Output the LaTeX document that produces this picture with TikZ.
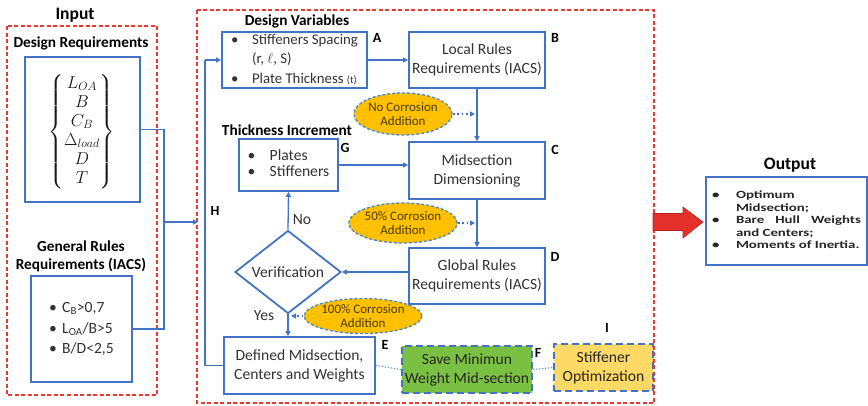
\documentclass[tikz,border=0pt]{standalone}
\usepackage{fontspec}
\usepackage{amsmath}
\setmainfont{Carlito}
\newfontfamily\outfont{Carlito}[FakeStretch=1.35]
\usetikzlibrary{arrows.meta,shapes.geometric}
\definecolor{boxblue}{HTML}{4472C4}
\definecolor{ellblue}{HTML}{4A86C8}
\definecolor{lightblue}{HTML}{5B9BD5}
\definecolor{reddash}{HTML}{E8382F}
\definecolor{gold}{HTML}{FFC000}
\definecolor{greenbox}{HTML}{7AC143}
\definecolor{yellowbox}{HTML}{FFD966}
\definecolor{textgray}{HTML}{333333}
\definecolor{olivetext}{HTML}{4A3C00}
\definecolor{redarrow}{HTML}{E3302A}
\newcommand{\mainf}{\fontsize{15.6}{19}\selectfont}
\begin{document}
\begin{tikzpicture}[x=1pt,y=-1pt,
  box/.style={draw=boxblue, line width=1.8pt, fill=white, inner sep=0pt, align=center, font=\mainf, text=textgray},
  dbox/.style={draw=boxblue, line width=2.2pt, dash pattern=on 7pt off 4pt, inner sep=0pt, align=center, font=\mainf, text=black!85},
  ttl/.style={font=\bfseries\fontsize{15.3}{18}\selectfont, align=center, inner sep=0pt},
  bigttl/.style={font=\bfseries\fontsize{17.5}{20}\selectfont, inner sep=0pt},
  lbl/.style={font=\bfseries\fontsize{14}{16}\selectfont, inner sep=0pt},
  frame/.style={draw=reddash, line width=1.5pt, dash pattern=on 4pt off 2.5pt},
  conn/.style={draw=boxblue, line width=1.3pt},
  arr/.style={conn, -{Triangle[length=5pt,width=5pt]}},
  dotarr/.style={draw=boxblue, line width=1.6pt, dash pattern=on 1.8pt off 2.6pt, -{Triangle[length=5pt,width=5pt]}},
  dotline/.style={draw=lightblue, line width=1.1pt, dash pattern=on 1.4pt off 1.6pt},
  corr/.style={ellipse, fill=gold, draw=ellblue, line width=1.3pt, dash pattern=on 3pt off 2pt, inner sep=0pt, align=center, font=\fontsize{13}{14.5}\selectfont, text=olivetext},
  plain/.style={font=\mainf, text=textgray, inner sep=0pt}
]
\useasboundingbox (0,0) rectangle (868,405);

% frames
\draw[frame] (7,26) rectangle (157,395);
\draw[frame] (197,10) rectangle (654,403);

% ---------- Input ----------
\node[bigttl] (tin) at (75,15) {Input};
\node[ttl] (tdr) at (81,43) {Design Requirements};
\node[box, minimum width=115pt, minimum height=145pt, text=black] (DR) at (82.5,129.5) {};
\node[inner sep=0pt, text=black!90, font=\fontsize{16.5}{19}\selectfont] (DRt) at (82,132)
  {$\left\{\begin{matrix} L_{OA}\\ B\\ C_B\\ \Delta_{load}\\ D\\ T\end{matrix}\right\}$};
\node[ttl] (tgr) at (81,256) {General Rules\\Requirements (IACS)};
\node[box, minimum width=101pt, minimum height=106pt] (GR) at (81.5,329) {};
\node[plain, font=\fontsize{15.6}{20.5}\selectfont] (GRt) at (GR.center)
  {\begin{tabular}{@{}l@{}l@{}}
   \makebox[13pt][l]{\textbullet} & C\textsubscript{B}>0,7\\
   \makebox[13pt][l]{\textbullet} & L\textsubscript{OA}/B>5\\
   \makebox[13pt][l]{\textbullet} & B/D<2,5
   \end{tabular}};

\coordinate (jx) at (164,0);
\coordinate (jin) at (164,222);
\coordinate (hin) at (198,222);
\draw[conn] (DR.east) -- (DR.east -| jx) -- (GR.east -| jx) -- (GR.east);
\draw[arr] (jin) -- (hin);

% ---------- Main process ----------
\node[ttl] (tdv) at (297,21) {Design Variables};
\node[box, minimum width=145pt, minimum height=56pt] (A) at (294.5,60) {};
\node[plain, font=\fontsize{14.8}{19.5}\selectfont] (At) at (A.center)
  {\begin{tabular}{@{}l@{}l@{}}
   \makebox[21pt][l]{\textbullet} & Stiffeners Spacing\\
   & (r, $\ell$, S)\\
   \makebox[21pt][l]{\textbullet} & Plate Thickness {\fontsize{10.5}{12}\selectfont(t)}
   \end{tabular}};
\node[lbl] (la) at (377,38) {A};

\node[box, minimum width=136pt, minimum height=56pt] (B) at (477,60) {Local Rules\\Requirements (IACS)};
\node[lbl] (lb) at (555,38) {B};

\node[box, minimum width=136pt, minimum height=57pt] (C) at (477,170.5) {Midsection\\Dimensioning};
\node[lbl] (lc) at (555,150) {C};

\node[box, minimum width=136pt, minimum height=56pt] (D) at (477,276) {Global Rules\\Requirements (IACS)};
\node[lbl] (ld) at (555,257) {D};

\node[ttl] (tti) at (287,130) {Thickness Increment};
\node[box, minimum width=99pt, minimum height=52pt] (G) at (288.5,165) {};
\node[plain, font=\fontsize{15.6}{16.5}\selectfont] (Gt) at (G.center)
  {\begin{tabular}{@{}l@{}l@{}}
   \makebox[22pt][l]{\textbullet} & Plates\\
   \makebox[22pt][l]{\textbullet} & Stiffeners
   \end{tabular}};
\node[lbl] (lg) at (345,148) {G};

\node[diamond, draw=boxblue, line width=1.8pt, fill=white, inner sep=0pt,
      minimum width=106pt, minimum height=57pt, font=\mainf, text=textgray] (V) at (288,272) {Verification};

\node[box, minimum width=151pt, minimum height=57pt] (E) at (299.5,365.5) {Defined Midsection,\\Centers and Weights};
\node[lbl] (le) at (385,345) {E};

\node[dbox, fill=greenbox, minimum width=130pt, minimum height=47pt] (F) at (467,369.5) {Save Minimun\\Weight Mid-section};
\node[lbl] (lf) at (538,353) {F};

\node[dbox, fill=yellowbox, minimum width=99pt, minimum height=47pt] (I) at (603.5,367.5) {Stiffener\\Optimization};
\node[lbl] (li) at (607,328) {I};

\node[lbl] (lh) at (215,211) {H};
\node[plain] (tno) at (302,220) {No};
\node[plain] (tyes) at (264,316) {Yes};

\node[corr, minimum width=86pt, minimum height=42pt] (nc) at (403,114) {No Corrosion\\Addition};
\node[corr, minimum width=86pt, minimum height=40pt] (hc) at (403,223) {50\% Corrosion\\Addition};
\node[corr, minimum width=84pt, minimum height=35pt] (fc) at (363,316) {100\% Corrosion\\Addition};

% connectors
\coordinate (hx) at (205,0);
\draw[conn] (E.west) -- (E.west -| hx) -- (A.west -| hx);
\draw[arr] (A.west -| hx) -- (A.west);
\draw[arr] (A.east) -- (B.west);
\draw[arr] (B.south) -- (C.north);
\draw[arr] (C.south) -- (D.north);
\draw[arr] (V.east -| D.west) -- (V.east);
\draw[arr] (V.north) -- (G.south);
\draw[arr] (V.south) -- (V.south |- E.north);
\draw[arr] (G.east) -- (G.east -| C.west);
\draw[dotarr] (nc.east) -- ([xshift=-2pt]nc.east -| B.south);
\draw[dotarr] (hc.east) -- ([xshift=-2pt]hc.east -| C.south);
\draw[dotarr] (fc.west) -- ([xshift=3pt]fc.west -| V.south);
\draw[dotline] (E.east) -- (F.west);
\draw[dotline] (F.east) -- (I.west);

% ---------- Output ----------
\node[bigttl] (tout) at (790,165) {Output};
\node[draw=boxblue, line width=1.8pt, fill=white, minimum width=161pt, minimum height=88pt, inner sep=0pt] (O) at (786.5,221) {};
\node[inner sep=0pt, font=\outfont\bfseries\fontsize{11}{12.5}\selectfont, text=black!85] (Ot) at (O.center)
  {\begin{tabular}{@{}l@{}l@{}}
   \makebox[24pt][l]{\textbullet} & Optimum\\
   & Midsection;\\
   \makebox[24pt][l]{\textbullet} & \makebox[125pt][s]{Bare Hull Weights}\\
   & and Centers;\\
   \makebox[24pt][l]{\textbullet} & Moments of Inertia.
   \end{tabular}};

\draw[fill=redarrow, draw=redarrow!80!black, line width=0.6pt]
  (653,213.5) -- (683,213.5) -- (683,207) -- (703,222) -- (683,238) -- (683,230.5) -- (653,230.5) -- cycle;
\end{tikzpicture}
\end{document}
